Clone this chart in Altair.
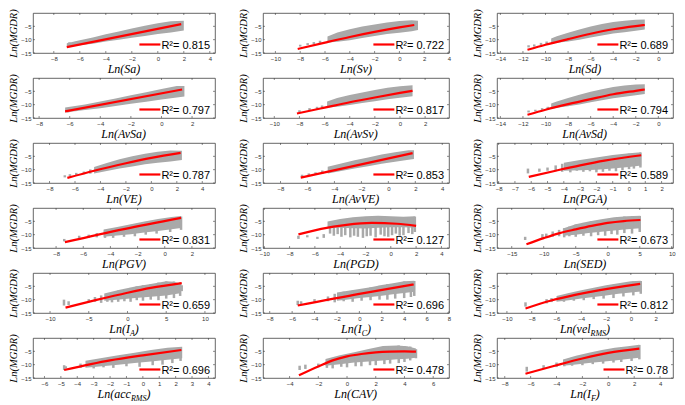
import altair as alt
import pandas as pd

# ---------------- data ----------------
R2 = ["0.815", "0.722", "0.689", "0.797", "0.817", "0.794",
      "0.787", "0.853", "0.589", "0.831", "0.127", "0.673",
      "0.659", "0.696", "0.812", "0.696", "0.478", "0.78"]

# x-axis titles: (text, is_subscript)
TITLES = [
    [("Ln(Sa)", 0)], [("Ln(Sv)", 0)], [("Ln(Sd)", 0)],
    [("Ln(AvSa)", 0)], [("Ln(AvSv)", 0)], [("Ln(AvSd)", 0)],
    [("Ln(VE)", 0)], [("Ln(AvVE)", 0)], [("Ln(PGA)", 0)],
    [("Ln(PGV)", 0)], [("Ln(PGD)", 0)], [("Ln(SED)", 0)],
    [("Ln(I", 0), ("A", 1), (")", 0)], [("Ln(I", 0), ("C", 1), (")", 0)],
    [("Ln(vel", 0), ("RMS", 1), (")", 0)],
    [("Ln(acc", 0), ("RMS", 1), (")", 0)], [("Ln(CAV)", 0)],
    [("Ln(I", 0), ("F", 1), (")", 0)],
]

X_DOMAINS = [[-9.6, 4.4], [-11.0, 4.0], [-14.3, 1.3],
             [-8.4, 3.5], [-10.9, 3.9], [-14.3, 1.3],
             [-9.3, 5.0], [-9.3, 4.5], [-8.1, 2.7],
             [-9.7, 3.7], [-10.1, 4.6], [-17.3, 10.2],
             [-12.2, 11.3], [-8.6, 8.0], [-10.8, 3.4],
             [-6.7, 4.4], [-5.85, 7.1], [-8.6, 5.0]]

X_TICKS = [[-8, -6, -4, -2, 0, 2, 4], [-10, -8, -6, -4, -2, 0, 2, 4], [-14, -12, -10, -8, -6, -4, -2, 0],
           [-8, -6, -4, -2, 0, 2], [-10, -8, -6, -4, -2, 0, 2], [-14, -12, -10, -8, -6, -4, -2, 0],
           [-8, -6, -4, -2, 0, 2, 4], [-8, -6, -4, -2, 0, 2, 4], [-8, -7, -6, -5, -4, -3, -2, -1, 0, 1, 2],
           [-8, -6, -4, -2, 0, 2], [-10, -8, -6, -4, -2, 0, 2, 4], [-15, -10, -5, 0, 5, 10],
           [-10, -5, 0, 5, 10], [-8, -6, -4, -2, 0, 2, 4, 6, 8], [-10, -8, -6, -4, -2, 0, 2],
           [-6, -5, -4, -3, -2, -1, 0, 1, 2, 3, 4], [-4, -2, 0, 2, 4, 6], [-8, -6, -4, -2, 0, 2, 4]]

Y_TICKS = [-15, -10, -5]

# dense part of each grey cloud: (x, lower, upper)
BAND_SA = [(-7.0, -12.6, -11.3), (-6.0, -12.1, -10.2), (-5.0, -11.5, -9.2), (-4.0, -10.7, -8.0),
           (-3.0, -10.0, -6.9), (-2.0, -9.3, -5.8), (-1.0, -8.6, -4.8), (0.0, -7.9, -3.8),
           (1.0, -7.3, -3.1), (2.0, -6.6, -2.9)]
BAND_SV = [(-5.8, -11.1, -8.8), (-5.0, -10.8, -7.3), (-4.0, -10.2, -6.1), (-3.0, -9.4, -5.1),
           (-2.0, -8.6, -4.3), (-1.0, -7.9, -3.6), (0.0, -7.4, -3.0), (1.0, -6.8, -2.7), (1.5, -6.4, -2.9)]
BAND_SD = [(-9.5, -11.5, -9.6), (-9.0, -11.2, -8.7), (-8.0, -10.7, -7.4), (-7.0, -10.0, -6.2),
           (-6.0, -9.2, -5.1), (-5.0, -8.4, -4.1), (-4.0, -7.7, -3.4), (-3.0, -7.2, -2.9),
           (-2.0, -6.7, -2.5), (-1.2, -6.2, -2.4)]
BAND_AVSA = [(-6.3, -12.9, -11.1), (-5.0, -12.0, -9.9), (-4.0, -11.3, -8.8), (-3.0, -10.5, -7.7),
             (-2.0, -9.7, -6.5), (-1.0, -8.9, -5.3), (0.0, -8.1, -4.1), (1.0, -7.3, -3.0), (1.5, -6.9, -3.0)]
BAND_AVSV = [(-5.8, -11.1, -8.8), (-5.0, -10.8, -7.5), (-4.0, -10.1, -6.4), (-3.0, -9.4, -5.4),
             (-2.0, -8.7, -4.5), (-1.0, -8.0, -3.7), (0.0, -7.4, -3.1), (1.0, -6.8, -2.7)]
BAND_AVSD = [(-9.5, -11.5, -9.6), (-9.0, -11.2, -8.8), (-8.0, -10.6, -7.5), (-7.0, -9.9, -6.3),
             (-6.0, -9.1, -5.2), (-5.0, -8.3, -4.2), (-4.0, -7.6, -3.4), (-3.0, -7.0, -2.8),
             (-2.0, -6.5, -2.4), (-1.2, -6.0, -2.3)]
BAND_VE = [(-4.5, -11.4, -9.0), (-3.5, -10.5, -7.5), (-2.5, -9.6, -6.1), (-1.5, -8.8, -5.0),
           (-0.5, -8.0, -4.0), (0.5, -7.4, -3.3), (1.5, -6.9, -2.8), (2.4, -6.4, -2.9)]
BAND_AVVE = [(-4.5, -11.4, -8.9), (-3.5, -10.5, -7.7), (-2.5, -9.6, -6.5), (-1.5, -8.7, -5.4),
             (-0.5, -7.8, -4.3), (0.5, -7.0, -3.5), (1.5, -6.3, -2.7), (1.9, -6.0, -2.7)]
BAND_PGA = [(-4.0, -10.4, -7.4), (-3.0, -10.2, -6.4), (-2.0, -10.0, -5.4), (-1.0, -9.6, -4.5),
            (0.0, -9.0, -3.8), (0.75, -8.4, -3.5)]
BAND_PGV = [(-4.5, -10.8, -8.1), (-3.5, -10.3, -7.1), (-2.5, -9.8, -6.1), (-1.5, -9.2, -5.1),
            (-0.5, -8.6, -4.1), (0.5, -8.0, -3.4), (1.2, -7.5, -3.0)]
BAND_PGD = [(-5.0, -7.4, -5.1), (-4.0, -7.4, -4.1), (-3.0, -7.6, -3.5), (-2.0, -7.7, -3.1),
            (-1.0, -7.4, -2.9), (0.0, -7.2, -3.1), (1.0, -7.2, -3.3), (1.9, -7.4, -3.1)]
BAND_SED = [(-7.0, -10.4, -7.7), (-5.0, -10.0, -6.1), (-3.0, -9.4, -5.1), (-1.0, -8.9, -4.2),
            (1.0, -8.4, -3.5), (3.0, -8.0, -3.1), (5.1, -7.6, -2.9)]
BAND_IA = [(-3.0, -10.4, -7.7), (-1.0, -9.9, -6.3), (1.0, -9.4, -5.1), (3.0, -8.9, -4.1),
           (5.0, -8.4, -3.1), (6.0, -8.0, -3.3), (6.8, -7.6, -3.9)]
BAND_IC = [(-2.0, -10.4, -7.3), (-1.0, -9.9, -6.7), (0.0, -9.4, -6.0), (1.0, -9.0, -5.3),
           (2.0, -8.5, -4.5), (3.0, -8.0, -3.8), (4.0, -7.5, -3.1), (4.9, -7.0, -2.9)]
BAND_VEL = [(-6.0, -10.8, -8.6), (-5.0, -10.2, -7.5), (-4.0, -9.6, -6.5), (-3.0, -9.0, -5.5),
            (-2.0, -8.4, -4.6), (-1.0, -7.8, -3.8), (0.0, -7.3, -3.1), (0.8, -6.9, -2.9)]
BAND_ACC = [(-3.5, -11.2, -8.5), (-2.5, -10.6, -7.5), (-1.5, -10.0, -6.5), (-0.5, -9.4, -5.5),
            (0.5, -8.8, -4.5), (1.5, -8.2, -3.7), (2.4, -7.6, -3.3)]
BAND_CAV = [(-1.5, -10.4, -7.9), (-0.5, -9.8, -6.5), (0.5, -9.2, -5.3), (1.5, -8.8, -4.1),
            (2.5, -8.4, -3.0), (3.5, -8.0, -2.8), (4.2, -7.8, -3.1), (4.8, -7.4, -3.9)]
BAND_IF = [(-3.5, -10.4, -8.1), (-2.5, -9.9, -6.7), (-1.5, -9.4, -5.5), (-0.5, -8.9, -4.5),
           (0.5, -8.4, -3.7), (1.5, -7.9, -3.1), (2.4, -7.4, -2.5)]

# scattered vertical streaks of grey points: (x, lower, upper)
STREAK_SA = [(-6.8, -12.4, -11.0), (-6.3, -12.0, -10.8), (-5.8, -11.8, -10.4)]
STREAK_SV = [(-8.0, -12.6, -11.9), (-7.4, -12.0, -11.3), (-6.9, -11.7, -10.9), (-6.4, -11.4, -10.4)]
STREAK_SD = [(-11.5, -12.9, -12.1), (-11.0, -12.6, -11.8), (-10.4, -12.1, -11.2), (-9.9, -11.8, -10.7)]
STREAK_AVSA = [(-6.1, -12.9, -11.4), (-5.6, -12.4, -10.8)]
STREAK_AVSV = [(-8.0, -12.8, -12.1), (-7.2, -12.1, -11.3), (-6.6, -11.7, -10.8), (-6.2, -11.3, -10.3)]
STREAK_AVSD = [(-11.5, -12.9, -12.2), (-10.9, -12.5, -11.9), (-10.3, -12.1, -11.3), (-9.8, -11.7, -10.8)]
STREAK_VE = [(-6.8, -12.9, -12.1), (-6.4, -12.5, -11.7), (-5.9, -12.1, -11.2), (-5.3, -11.7, -10.7),
             (-4.8, -11.5, -9.9)]
STREAK_AVVE = [(-6.4, -12.7, -11.9), (-5.9, -12.3, -11.4), (-5.4, -11.9, -11.0), (-4.9, -11.6, -10.3)]
STREAK_PGA = [(-6.2, -11.4, -9.6), (-5.5, -10.8, -9.6), (-5.0, -10.4, -9.2), (-4.5, -10.6, -8.4),
              (-4.1, -10.8, -7.8), (-3.6, -11.0, -7.4), (-3.2, -10.4, -7.0), (-2.8, -10.8, -6.6),
              (-2.4, -10.6, -6.2), (-2.0, -11.0, -5.8), (-1.6, -10.8, -5.4), (-1.2, -10.4, -5.0),
              (-0.8, -10.6, -4.6), (-0.4, -10.2, -4.4), (0.0, -9.8, -4.0), (0.3, -9.6, -3.9),
              (0.7, -9.2, -3.6)]
STREAK_PGV = [(-7.4, -12.5, -11.6), (-6.3, -11.9, -10.4), (-5.6, -11.2, -10.0), (-5.0, -11.0, -9.4),
              (-4.4, -11.2, -8.4), (-3.8, -11.2, -8.2), (-3.0, -10.8, -7.4), (-2.2, -10.6, -6.6),
              (-1.4, -10.0, -5.6), (-0.6, -9.6, -4.6), (0.4, -9.0, -3.8), (1.2, -8.2, -3.2)]
STREAK_PGD = [(-7.3, -11.6, -10.4), (-6.6, -11.0, -10.2), (-5.8, -11.6, -10.8), (-5.3, -11.2, -9.8),
              (-4.8, -9.6, -6.0), (-4.5, -10.4, -5.4), (-4.2, -9.8, -5.0), (-3.9, -10.8, -4.6),
              (-3.6, -10.2, -4.4), (-3.2, -11.0, -4.2), (-2.9, -10.4, -4.0), (-2.6, -10.8, -3.8),
              (-2.2, -11.2, -3.6), (-1.9, -10.6, -3.4), (-1.6, -10.4, -3.4), (-1.2, -11.0, -3.2),
              (-0.8, -10.0, -3.2), (-0.5, -10.6, -3.2), (-0.2, -10.8, -3.4), (0.1, -10.2, -3.4),
              (0.4, -9.6, -3.6), (0.7, -10.4, -3.6), (1.0, -10.2, -3.6), (1.4, -9.4, -3.6),
              (1.7, -9.8, -3.4), (1.9, -9.0, -3.2)]
STREAK_SED = [(-12.9, -12.0, -10.8), (-10.2, -11.6, -9.8), (-9.6, -11.2, -9.6), (-8.6, -10.8, -8.8),
              (-7.6, -10.6, -8.2), (-6.8, -11.0, -7.6), (-6.0, -10.6, -7.0), (-5.0, -10.8, -6.2),
              (-3.8, -10.4, -5.6), (-2.6, -10.6, -5.0), (-1.5, -10.2, -4.6), (-0.4, -10.4, -4.2),
              (0.6, -9.8, -3.8), (1.5, -10.0, -3.5), (2.6, -9.4, -3.2), (3.8, -9.6, -3.0),
              (5.0, -9.0, -3.0)]
STREAK_IA = [(-8.2, -12.2, -10.0), (-7.6, -12.0, -10.6), (-5.0, -11.0, -9.8), (-4.2, -10.8, -9.0),
             (-3.4, -11.2, -8.4), (-2.6, -10.8, -7.8), (-2.0, -11.0, -7.2), (-1.2, -10.8, -6.6),
             (-0.4, -10.6, -6.0), (0.4, -10.8, -5.6), (1.2, -10.2, -5.0), (2.0, -10.4, -4.6),
             (3.0, -10.0, -4.2), (4.0, -10.2, -3.6), (5.0, -9.6, -3.2), (6.0, -9.4, -3.2),
             (6.8, -8.6, -3.6), (7.0, -6.8, -4.6)]
STREAK_IC = [(-5.5, -12.0, -10.4), (-5.2, -11.6, -10.6), (-4.0, -11.0, -9.8), (-2.8, -10.6, -8.8),
             (-2.2, -11.0, -7.8), (-1.4, -10.6, -7.0), (-0.6, -10.8, -6.6), (0.2, -10.4, -6.0),
             (1.0, -10.2, -5.4), (1.8, -10.0, -4.8), (2.5, -10.0, -4.2), (3.2, -9.6, -3.8),
             (4.0, -9.4, -3.2), (4.6, -9.0, -3.0), (4.9, -8.6, -3.0)]
STREAK_VEL = [(-8.5, -12.6, -11.0), (-6.8, -11.4, -9.8), (-6.4, -10.9, -9.4), (-5.4, -10.8, -8.4),
              (-4.6, -10.4, -7.6), (-3.8, -10.2, -6.8), (-3.0, -9.8, -6.0), (-2.2, -9.6, -5.2),
              (-1.4, -9.4, -4.4), (-0.6, -8.8, -3.8), (0.2, -8.4, -3.2), (0.8, -7.8, -3.0)]
STREAK_ACC = [(-4.8, -12.0, -10.2), (-4.7, -11.4, -10.6), (-3.8, -11.2, -9.6), (-3.0, -11.4, -8.8),
              (-2.4, -11.0, -8.0), (-1.8, -11.2, -7.4), (-1.0, -10.6, -6.6), (-0.2, -10.8, -6.0),
              (0.6, -10.2, -5.2), (1.2, -10.0, -4.6), (1.8, -9.4, -4.0), (2.3, -8.6, -3.4)]
STREAK_CAV = [(-3.3, -12.0, -10.4), (-2.9, -11.6, -10.0), (-2.0, -11.0, -9.6), (-1.4, -11.2, -8.6),
              (-1.0, -11.4, -8.0), (-0.4, -10.8, -7.0), (0.0, -11.0, -6.6), (0.6, -10.6, -5.8),
              (1.0, -10.6, -5.2), (1.6, -10.2, -4.6), (2.0, -10.2, -4.0), (2.6, -9.8, -3.2),
              (3.0, -9.6, -3.0), (3.6, -9.4, -2.8), (4.0, -9.0, -3.0), (4.4, -8.4, -3.2),
              (4.8, -7.6, -4.2)]
STREAK_IF = [(-6.3, -12.6, -10.8), (-5.0, -11.6, -10.2), (-4.0, -10.9, -9.2), (-3.4, -10.6, -8.2),
             (-2.8, -10.4, -7.4), (-2.0, -10.2, -6.6), (-1.2, -9.8, -5.6), (-0.4, -9.6, -4.8),
             (0.4, -9.2, -4.0), (1.0, -9.0, -3.6), (1.8, -8.6, -3.0), (2.4, -8.0, -2.6)]

# red fitted curves: (x, y)
FIT_SA = [(-7.0, -12.8), (1.8, -4.2)]
FIT_SV = [(-8.2, -13.5), (-6.0, -11.1), (-4.0, -9.0), (-2.0, -7.1), (0.0, -5.4), (1.2, -4.5)]
FIT_SD = [(-11.6, -13.8), (-10.0, -11.9), (-8.0, -9.8), (-6.0, -7.8), (-4.0, -6.1), (-2.0, -4.9), (-1.2, -4.5)]
FIT_AVSA = [(-6.3, -12.5), (1.35, -4.3)]
FIT_AVSV = [(-8.2, -13.3), (-6.0, -11.1), (-4.0, -9.1), (-2.0, -7.3), (0.0, -5.6), (1.0, -4.8)]
FIT_AVSD = [(-11.6, -13.8), (-10.0, -11.9), (-8.0, -9.8), (-6.0, -7.9), (-4.0, -6.1), (-2.0, -4.8), (-1.2, -4.3)]
FIT_VE = [(-6.6, -13.1), (-4.5, -10.4), (-2.0, -7.6), (0.0, -5.6), (2.3, -3.7)]
FIT_AVVE = [(-6.5, -13.0), (1.8, -3.8)]
FIT_PGA = [(-6.15, -12.7), (-4.5, -10.4), (-3.0, -8.4), (-1.5, -6.6), (0.75, -4.6)]
FIT_PGV = [(-7.35, -12.8), (-3.0, -7.9), (1.2, -3.7)]
FIT_PGD = [(-7.3, -9.9), (-5.5, -7.8), (-3.5, -6.3), (-1.5, -5.6), (0.5, -5.9), (2.0, -6.7)]
FIT_SED = [(-12.7, -13.6), (-10.0, -11.3), (-7.5, -9.4), (-5.0, -8.0), (-2.5, -6.7), (0.0, -5.6),
           (2.5, -4.9), (5.1, -4.5)]
FIT_IA = [(-8.0, -13.0), (-4.0, -10.1), (0.0, -7.4), (3.0, -5.6), (7.0, -3.8)]
FIT_IC = [(-5.5, -12.2), (0.0, -7.8), (4.85, -4.3)]
FIT_VEL = [(-8.5, -13.3), (-6.5, -10.4), (-4.5, -8.2), (-2.5, -6.4), (-0.5, -4.9), (0.75, -4.1)]
FIT_ACC = [(-4.8, -12.0), (-2.0, -8.4), (0.0, -6.5), (2.35, -4.5)]
FIT_CAV = [(-3.35, -14.0), (-2.0, -10.7), (-1.0, -8.4), (0.0, -6.9), (1.0, -6.0), (2.0, -5.4),
           (3.0, -5.1), (4.0, -5.0), (4.8, -5.1)]
FIT_IF = [(-6.4, -13.4), (-4.0, -10.2), (-2.0, -7.7), (0.0, -5.6), (2.4, -4.0)]

BANDS = [BAND_SA, BAND_SV, BAND_SD, BAND_AVSA, BAND_AVSV, BAND_AVSD, BAND_VE, BAND_AVVE, BAND_PGA,
         BAND_PGV, BAND_PGD, BAND_SED, BAND_IA, BAND_IC, BAND_VEL, BAND_ACC, BAND_CAV, BAND_IF]
STREAKS = [STREAK_SA, STREAK_SV, STREAK_SD, STREAK_AVSA, STREAK_AVSV, STREAK_AVSD, STREAK_VE,
           STREAK_AVVE, STREAK_PGA, STREAK_PGV, STREAK_PGD, STREAK_SED, STREAK_IA, STREAK_IC,
           STREAK_VEL, STREAK_ACC, STREAK_CAV, STREAK_IF]
FITS = [FIT_SA, FIT_SV, FIT_SD, FIT_AVSA, FIT_AVSV, FIT_AVSD, FIT_VE, FIT_AVVE, FIT_PGA,
        FIT_PGV, FIT_PGD, FIT_SED, FIT_IA, FIT_IC, FIT_VEL, FIT_ACC, FIT_CAV, FIT_IF]

# ---------------- layout / style ----------------
WIDTHS = [182, 186, 176]
H = 40
GRAY = "#a9a9a9"
RED = "#ff0000"
BOX = "#404040"
SERIF = "Liberation Serif"
SANS = "Liberation Sans"
TITLE_BASE = 20      # baseline of x-title below the plot box
SUB_DROP = 2.5       # subscript drop

TIMES_I = {'L': 556, 'n': 500, '(': 333, ')': 333, 'I': 333, 'A': 611, 'a': 500, 'c': 444,
           'v': 444, 'e': 444, 'l': 278, 'R': 611, 'M': 833, 'S': 500, 'C': 667, 'F': 611,
           'V': 611, 'E': 611, 'P': 611, 'G': 722, 'D': 722, 'd': 500}
ARIAL = {'R': 722, '²': 333, '=': 584, ' ': 278, '.': 278}


def tw_serif(s, size):
    return sum(TIMES_I.get(c, 500) for c in s) * size / 1000.0


def tw_sans(s, size):
    return sum(ARIAL.get(c, 556) for c in s) * size / 1000.0


ONE = pd.DataFrame({"a": [0]})


def make_panel(i):
    w = WIDTHS[i % 3]
    xs = alt.Scale(domain=X_DOMAINS[i], nice=False, zero=False)
    ys = alt.Scale(domain=[-15, 0], nice=False, zero=False)
    xax = alt.Axis(values=X_TICKS[i], title=None, domain=False, ticks=False, grid=False,
                   labelFontSize=6, labelFont=SANS, labelColor="#333333", labelPadding=2,
                   labelFlush=False, labelOverlap=False)
    yax = alt.Axis(values=Y_TICKS, title="Ln(MGDR)", domain=False, ticks=False, grid=False,
                   labelFontSize=6, labelFont=SANS, labelColor="#333333", labelPadding=2,
                   labelOverlap=False, titleFont=SERIF, titleFontStyle="italic",
                   titleFontWeight="normal", titleFontSize=10.5, titleColor="black",
                   titlePadding=2)

    band = pd.DataFrame(BANDS[i], columns=["x", "lo", "hi"])
    streak = pd.DataFrame(STREAKS[i], columns=["x", "lo", "hi"])
    fit = pd.DataFrame(FITS[i], columns=["x", "y"])
    xt = pd.DataFrame({"t": X_TICKS[i]})
    yt = pd.DataFrame({"t": Y_TICKS})

    X = lambda f: alt.X(f, scale=xs, axis=xax)
    Y = lambda f: alt.Y(f, scale=ys, axis=yax)

    layers = [
        alt.Chart(band).mark_area(color=GRAY, opacity=1).encode(
            x=X("x:Q"), y=Y("lo:Q"), y2="hi:Q"),
        alt.Chart(streak).mark_rule(color=GRAY, strokeWidth=2.5).encode(
            x=X("x:Q"), y=Y("lo:Q"), y2="hi:Q"),
        alt.Chart(fit).mark_line(color=RED, strokeWidth=2.2, interpolate="monotone").encode(
            x=X("x:Q"), y=Y("y:Q")),
        # inward ticks (MATLAB style) on all four sides
        alt.Chart(xt).mark_rule(color=BOX, strokeWidth=0.6).encode(
            x=X("t:Q"), y=alt.value(H), y2=alt.value(H - 2)),
        alt.Chart(xt).mark_rule(color=BOX, strokeWidth=0.6).encode(
            x=X("t:Q"), y=alt.value(0), y2=alt.value(2)),
        alt.Chart(yt).mark_rule(color=BOX, strokeWidth=0.6).encode(
            y=Y("t:Q"), x=alt.value(0), x2=alt.value(2)),
        alt.Chart(yt).mark_rule(color=BOX, strokeWidth=0.6).encode(
            y=Y("t:Q"), x=alt.value(w), x2=alt.value(w - 2)),
        # invisible spacer so every row has the same lower extent
        alt.Chart(ONE).mark_rule(strokeOpacity=0, strokeWidth=1).encode(
            x=alt.value(w / 2), x2=alt.value(w / 2 + 1), y=alt.value(H + 24)),
    ]

    # legend: red line + R² text, anchored to the right
    label = "R²= " + R2[i]
    tleft = w - 5 - tw_sans(label, 11)
    layers.append(alt.Chart(ONE).mark_rule(color=RED, strokeWidth=2.2).encode(
        x=alt.value(tleft - 22), x2=alt.value(tleft - 1), y=alt.value(H - 8.5)))
    layers.append(alt.Chart(ONE).mark_text(align="left", baseline="alphabetic", font=SANS,
                                           fontSize=11, color="black").encode(
        x=alt.value(tleft), y=alt.value(H - 4), text=alt.value(label)))

    # x title with optional subscript
    parts = TITLES[i]
    total = sum(tw_serif(t, 8 if s else 12) for t, s in parts)
    pos = w / 2 - total / 2
    for t, s in parts:
        size = 8 if s else 12
        layers.append(alt.Chart(ONE).mark_text(
            align="left", baseline="alphabetic", font=SERIF, fontStyle="italic",
            fontSize=size, color="black").encode(
            x=alt.value(pos), y=alt.value(H + TITLE_BASE + (SUB_DROP if s else 0)),
            text=alt.value(t)))
        pos += tw_serif(t, size)

    return alt.layer(*layers).properties(width=w, height=H)


rows = []
for r in range(6):
    rows.append(alt.hconcat(*[make_panel(3 * r + c) for c in range(3)],
                            spacing=48, bounds="flush"))

chart = alt.vconcat(*rows, spacing=-6).properties(
    padding=0, background="white"
).configure_view(stroke=BOX, strokeWidth=0.8)

chart.save("out.html", embed_options={"renderer": "svg", "actions": False})
